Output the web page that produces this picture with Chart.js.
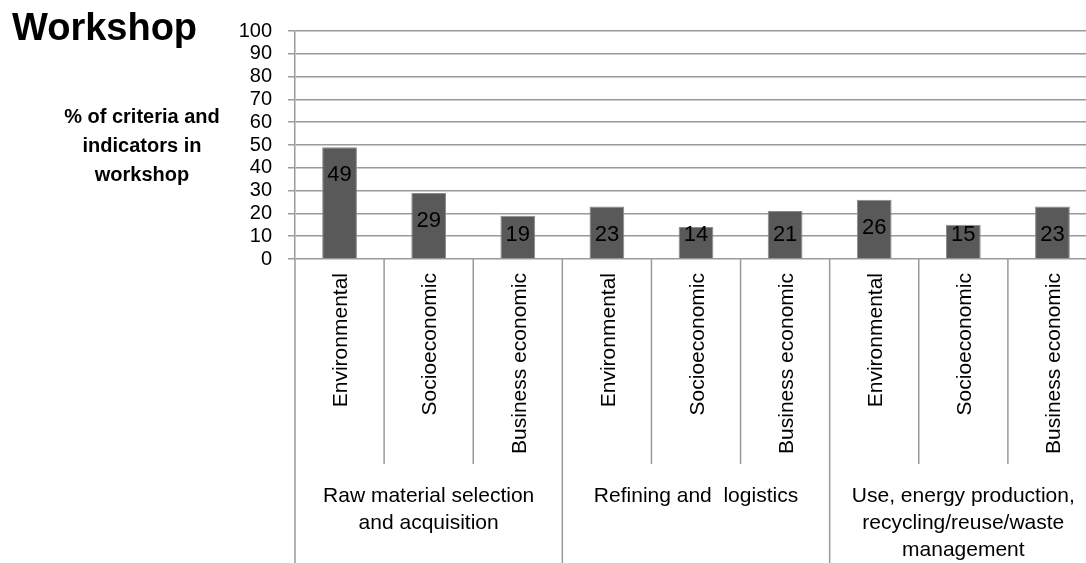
<!DOCTYPE html>
<html>
<head>
<meta charset="utf-8">
<script src="https://cdn.jsdelivr.net/npm/chart.js@4.4.1/dist/chart.umd.min.js"></script>
<style>
  html, body { margin: 0; padding: 0; background: #fff; overflow: hidden; }
  #wrap { position: relative; width: 1086px; height: 563px; overflow: hidden; }
  #chart { position: absolute; left: 0; top: 0; }
  #title { position: absolute; left: 12px; top: 6px; font: bold 38px "Liberation Sans", Arial, sans-serif; color: #000; }
  #ytitle { position: absolute; left: 42px; top: 102px; width: 200px; text-align: center;
            font: bold 20px "Liberation Sans", Arial, sans-serif; line-height: 29px; color: #000; }
</style>
</head>
<body>
<div id="wrap">
  <canvas id="chart" width="1100" height="563"></canvas>
  <div id="title">Workshop</div>
  <div id="ytitle">% of criteria and<br>indicators in<br>workshop</div>
</div>
<script>
// data
const categories = ["Environmental", "Socioeconomic", "Business economic",
                    "Environmental", "Socioeconomic", "Business economic",
                    "Environmental", "Socioeconomic", "Business economic"];
const values = [49, 29, 19, 23, 14, 21, 26, 15, 23];
const groups = [
  ["Raw material selection", "and acquisition"],
  ["Refining and  logistics"],
  ["Use, energy production,", "recycling/reuse/waste", "management"]
];
const groupSize = 3;
const yMin = 0, yMax = 100, yStep = 10;

const FONT = '"Liberation Sans", Arial, sans-serif';
const LINE = "#9a9a9a";

// separators, rotated category labels, group labels and bar values
const excelAxis = {
  id: "excelAxis",
  afterDatasetsDraw(chart) {
    const { ctx, chartArea, scales } = chart;
    const x = scales.x, y = scales.y;
    const bottom = chart.height;
    const half = (x.getPixelForValue(1) - x.getPixelForValue(0)) / 2;

    ctx.save();
    ctx.strokeStyle = LINE;
    ctx.lineWidth = 1.5;
    // axis line continues down through the label area
    ctx.beginPath();
    ctx.moveTo(chartArea.left, chartArea.bottom);
    ctx.lineTo(chartArea.left, bottom);
    for (let i = 1; i <= categories.length; i++) {
      const px = x.getPixelForValue(i - 1) + half;
      const groupEnd = i % groupSize === 0;
      ctx.moveTo(px, chartArea.bottom);
      ctx.lineTo(px, groupEnd ? bottom : chartArea.bottom + 205);
    }
    ctx.stroke();

    // rotated category names
    ctx.fillStyle = "#000";
    ctx.font = "21px " + FONT;
    categories.forEach((c, i) => {
      ctx.save();
      ctx.translate(x.getPixelForValue(i) + 2, chartArea.bottom + 14);
      ctx.rotate(-Math.PI / 2);
      ctx.textAlign = "right";
      ctx.textBaseline = "middle";
      ctx.fillText(c, 0, 0);
      ctx.restore();
    });

    // group names
    ctx.textAlign = "center";
    ctx.textBaseline = "middle";
    groups.forEach((lines, g) => {
      const cx = (x.getPixelForValue(g * groupSize) + x.getPixelForValue(g * groupSize + groupSize - 1)) / 2;
      lines.forEach((t, k) => ctx.fillText(t, cx, chartArea.bottom + 237 + k * 27));
    });

    // value labels inside the bars
    ctx.font = "22px " + FONT;
    const meta = chart.getDatasetMeta(0);
    meta.data.forEach((bar, i) => {
      const ly = Math.min(bar.y + 28, y.getPixelForValue(0) - 24);
      ctx.fillText(String(values[i]), bar.x, ly);
    });
    ctx.restore();
  }
};

new Chart(document.getElementById("chart").getContext("2d"), {
  type: "bar",
  data: {
    labels: categories,
    datasets: [{
      data: values,
      backgroundColor: "#595959",
      borderColor: "#8a8a8a",
      borderWidth: 1,
      barPercentage: 0.39,
      categoryPercentage: 1
    }]
  },
  options: {
    responsive: false,
    animation: false,
    devicePixelRatio: 1,
    layout: { padding: { left: 0, top: 31, right: 3, bottom: 304 } },
    plugins: { legend: { display: false }, tooltip: { enabled: false } },
    scales: {
      x: { display: false },
      y: {
        min: yMin, max: yMax,
        afterFit: (s) => { s.width = 295; },
        ticks: { stepSize: yStep, autoSkip: false, color: "#000", padding: 16, font: { family: FONT, size: 20 } },
        grid: { color: LINE, lineWidth: 1.5, tickLength: 7 },
        border: { color: LINE, width: 1.5 }
      }
    }
  },
  plugins: [excelAxis]
});
</script>
</body>
</html>
